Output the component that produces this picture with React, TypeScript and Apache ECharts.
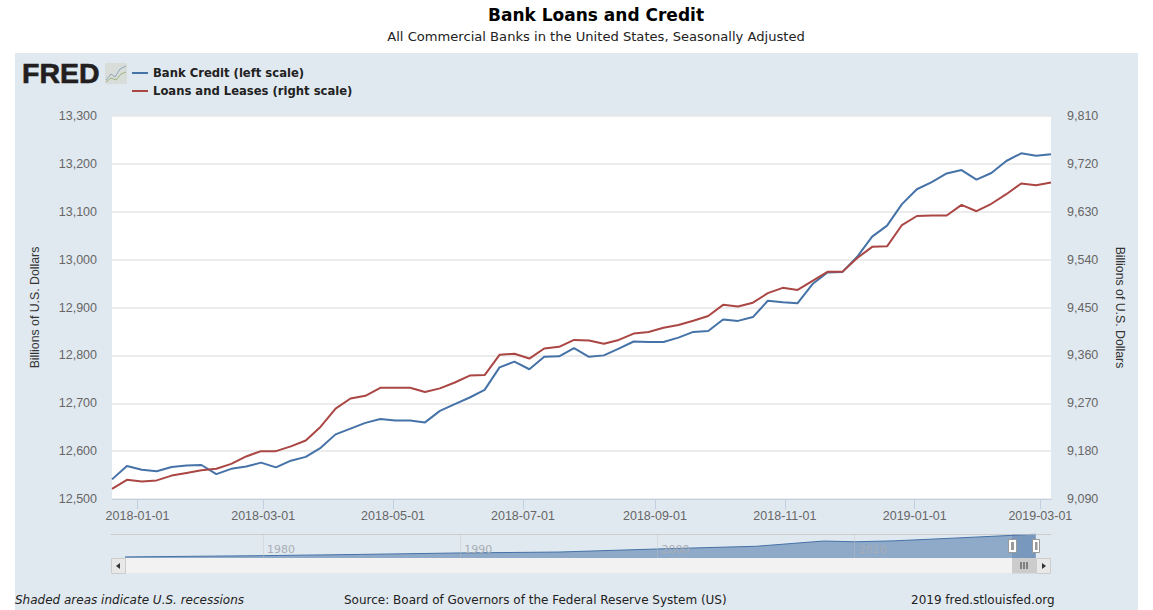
import React, { useEffect, useRef } from "react";
import * as echarts from "echarts";

const bankCredit = [
  12541, 12569, 12561, 12558, 12567, 12570, 12571, 12552, 12563, 12568, 12576, 12566, 12580, 12588, 12607, 12635,
  12647, 12659, 12667, 12664, 12664, 12660, 12684, 12698, 12712, 12728, 12775, 12787, 12771, 12797, 12798, 12815,
  12797, 12800, 12814, 12829, 12828, 12828, 12837, 12849, 12851, 12875, 12872, 12880, 12914, 12911, 12909, 12949,
  12973, 12974, 13006, 13048, 13071, 13116, 13147, 13162, 13180, 13187, 13167, 13181, 13206, 13222, 13217, 13220,
];
const loansAndLeases = [
  9109, 9126, 9123, 9125, 9134, 9139, 9144, 9147, 9156, 9170, 9180, 9180, 9189, 9200, 9226, 9260,
  9279, 9284, 9299, 9299, 9299, 9291, 9298, 9309, 9322, 9323, 9361, 9363, 9354, 9373, 9376, 9389,
  9388, 9382, 9389, 9401, 9404, 9412, 9417, 9425, 9434, 9455, 9452, 9459, 9477, 9487, 9483, 9500,
  9517, 9517, 9543, 9564, 9565, 9605, 9622, 9623, 9623, 9643, 9631, 9645, 9663, 9683, 9680, 9685,
];
const xTickDates = ["2018-01-01", "2018-03-01", "2018-05-01", "2018-07-01", "2018-09-01", "2018-11-01", "2019-01-01", "2019-03-01"];

// Long-run overview strip: bank credit since 1973
const overviewDates = ["1973-01-01", "1980-01-01", "1985-01-01", "1990-01-01", "1995-01-01", "2000-01-01", "2005-01-01", "2008-06-01", "2010-01-01", "2012-01-01", "2015-01-01", "2017-12-20", "2019-03-06"];
const overviewValues = [600, 1300, 2000, 2800, 3300, 5000, 6500, 9400, 9000, 9500, 11000, 12540, 13220];
const overviewYears = ["1980-01-01", "1990-01-01", "2000-01-01", "2010-01-01"];

const WEEK = 7 * 24 * 3600 * 1000;
const START = Date.UTC(2017, 11, 20);
const END = Date.UTC(2019, 2, 6);
const weeks = bankCredit.map((_, i) => START + i * WEEK);
const ts = (d: string) => Date.parse(d + "T00:00:00Z");

const BLUE = "#4572A7";
const RED = "#AA4643";
const PANEL = "#E1E9F0";
const UI = "DejaVu Sans";
const AXIS = "Liberation Sans";

const thousands = (v: number) => v.toLocaleString("en-US");
const grip = (x: number, y: number, h: number, stroke: string) => [0, 3, 6].map((dx) => ({
  type: "line", shape: { x1: x + dx, y1: y, x2: x + dx, y2: y + h }, style: { stroke, lineWidth: 1 }, z: 20,
}));

export default function App() {
  const ref = useRef<HTMLDivElement>(null);
  useEffect(() => {
    const chart = echarts.init(ref.current!, undefined, { renderer: "svg" });
    chart.setOption({
      animation: false,
      backgroundColor: "#fff",
      title: [
        { text: "Bank Loans and Credit", left: 591, top: 1, textAlign: "center", textStyle: { fontFamily: UI, fontWeight: "bold", fontSize: 17, color: "#000" } },
        { text: "All Commercial Banks in the United States, Seasonally Adjusted", left: 591, top: 25, textAlign: "center", textStyle: { fontFamily: UI, fontWeight: "normal", fontSize: 13.1, color: "#222" } },
      ],
      legend: {
        left: 127, top: 62, orient: "vertical", icon: "rect", itemWidth: 16, itemHeight: 2, itemGap: 6,
        data: ["Bank Credit (left scale)", "Loans and Leases (right scale)"],
        textStyle: { fontFamily: UI, fontWeight: "bold", fontSize: 11.6, color: "#222" },
      },
      grid: [
        { left: 112, top: 116, width: 939, height: 383, show: true, backgroundColor: "#fff", borderWidth: 0 },
        { left: 111, top: 534, width: 940, height: 24, show: false },
      ],
      xAxis: [
        {
          type: "value", gridIndex: 0, min: START, max: END,
          axisLine: { show: true, lineStyle: { color: "#C0D0E0", width: 1 } },
          axisTick: { show: true, customValues: xTickDates.map(ts), length: 10, lineStyle: { color: "#C0D0E0" } },
          axisLabel: {
            customValues: xTickDates.map(ts), margin: 10, color: "#666", fontFamily: AXIS, fontSize: 12.5,
            formatter: (v: number) => new Date(v).toISOString().slice(0, 10),
          },
          splitLine: { show: false },
        },
        {
          type: "value", gridIndex: 1, position: "top", z: 5, min: ts("1972-04-15"), max: ts("2019-12-15"),
          axisLine: { show: true, onZero: false, lineStyle: { color: "#CCCCCC", width: 1 } },
          axisTick: { show: true, inside: true, customValues: overviewYears.map(ts), length: 24, lineStyle: { color: "rgba(192,192,192,0.35)" } },
          axisLabel: {
            inside: true, customValues: overviewYears.map(ts), margin: 10, align: "left", padding: [0, 0, 0, 4],
            color: "#A8ADB3", fontFamily: UI, fontSize: 11,
            formatter: (v: number) => String(new Date(v).getUTCFullYear()),
          },
          splitLine: { show: false },
        },
      ],
      yAxis: [
        {
          type: "value", gridIndex: 0, min: 12500, max: 13300, interval: 100,
          name: "Billions of U.S. Dollars", nameLocation: "middle", nameGap: 71, nameRotate: 90,
          nameTextStyle: { fontFamily: AXIS, fontSize: 12.3, color: "#333" },
          axisLine: { show: false }, axisTick: { show: false },
          axisLabel: { margin: 15, padding: [2, 0, 0, 0], color: "#666", fontFamily: AXIS, fontSize: 12.5, formatter: thousands },
          splitLine: { lineStyle: { color: "#E6E6E6", width: 1.5 } },
        },
        {
          type: "value", gridIndex: 0, position: "right", min: 9090, max: 9810, interval: 90,
          name: "Billions of U.S. Dollars", nameLocation: "middle", nameGap: 63, nameRotate: -90,
          nameTextStyle: { fontFamily: AXIS, fontSize: 12.3, color: "#333" },
          axisLine: { show: false }, axisTick: { show: false },
          axisLabel: { margin: 16, padding: [2, 0, 0, 0], color: "#666", fontFamily: AXIS, fontSize: 12.5, formatter: thousands },
          splitLine: { show: false },
        },
        { type: "value", gridIndex: 1, min: 0, max: 13300, show: false, splitLine: { show: false } },
      ],
      series: [
        {
          name: "Bank Credit (left scale)", type: "line", xAxisIndex: 0, yAxisIndex: 0, showSymbol: false,
          itemStyle: { color: BLUE }, lineStyle: { color: BLUE, width: 2 }, z: 3,
          data: weeks.map((t, i) => [t, bankCredit[i]]),
        },
        {
          name: "Loans and Leases (right scale)", type: "line", xAxisIndex: 0, yAxisIndex: 1, showSymbol: false,
          itemStyle: { color: RED }, lineStyle: { color: RED, width: 2 }, z: 4,
          data: weeks.map((t, i) => [t, loansAndLeases[i]]),
        },
        {
          name: "Overview", type: "line", xAxisIndex: 1, yAxisIndex: 2, showSymbol: false,
          lineStyle: { color: BLUE, width: 1 }, areaStyle: { color: "#8FAAC9", opacity: 1 }, z: 1,
          data: overviewDates.map((d, i) => [ts(d), overviewValues[i]]),
        },
      ],
      graphic: [
        { type: "rect", z: -10, shape: { x: 15, y: 53, width: 1123, height: 557 }, style: { fill: PANEL } },
        // FRED wordmark and its small chart badge
        { type: "text", x: 22, y: 58, z: 10, style: { text: "FRED", fontFamily: AXIS, fontWeight: "bold", fontSize: 28.5, fill: "#231F20", stroke: "#231F20", lineWidth: 0.6 } },
        { type: "rect", z: 10, shape: { x: 105, y: 63, width: 22, height: 21, r: 1 }, style: { fill: "#D9DDDA" } },
        { type: "polyline", z: 11, shape: { points: [[106, 80], [111, 74], [115, 77], [120, 69], [126, 66]] }, style: { stroke: "#8FA5BC", lineWidth: 1, fill: "none" } },
        { type: "polyline", z: 11, shape: { points: [[106, 82], [111, 78], [116, 80], [121, 74], [126, 72]] }, style: { stroke: "#9DB37F", lineWidth: 1, fill: "none" } },
        // Range selector over the overview strip
        { type: "rect", z: 15, shape: { x: 1012, y: 534, width: 24, height: 24 }, style: { fill: "rgba(69,114,167,0.3)" } },
        { type: "rect", z: 16, shape: { x: 1008.5, y: 539.5, width: 8, height: 13 }, style: { fill: "#fff", stroke: "#999", lineWidth: 1 } },
        { type: "rect", z: 17, shape: { x: 1011, y: 542, width: 3, height: 8 }, style: { fill: "#999" } },
        { type: "rect", z: 16, shape: { x: 1032.5, y: 539.5, width: 7, height: 13 }, style: { fill: "#fff", stroke: "#999", lineWidth: 1 } },
        { type: "rect", z: 17, shape: { x: 1035, y: 542, width: 2.5, height: 8 }, style: { fill: "#999" } },
        // Scrollbar
        { type: "rect", z: 10, shape: { x: 111, y: 558, width: 940, height: 15 }, style: { fill: "#F2F2F2" } },
        { type: "rect", z: 11, shape: { x: 111.5, y: 558.5, width: 14, height: 15 }, style: { fill: "#E8E8E8", stroke: "#CCCCCC", lineWidth: 1 } },
        { type: "polygon", z: 12, shape: { points: [[116, 566], [120, 563], [120, 569]] }, style: { fill: "#333" } },
        { type: "rect", z: 11, shape: { x: 1012, y: 558, width: 24, height: 15.5 }, style: { fill: "#CCCCCC" } },
        ...grip(1021, 562, 7, "#333"),
        { type: "rect", z: 11, shape: { x: 1036.5, y: 558.5, width: 14, height: 15 }, style: { fill: "#E8E8E8", stroke: "#CCCCCC", lineWidth: 1 } },
        { type: "polygon", z: 12, shape: { points: [[1046, 566], [1042, 563], [1042, 569]] }, style: { fill: "#333" } },
        // Footer
        { type: "text", x: 15, y: 594, z: 10, style: { text: "Shaded areas indicate U.S. recessions", fontFamily: UI, fontStyle: "italic", fontSize: 12, fill: "#222" } },
        { type: "text", x: 344, y: 594, z: 10, style: { text: "Source: Board of Governors of the Federal Reserve System (US)", fontFamily: UI, fontSize: 12, fill: "#222" } },
        { type: "text", x: 911, y: 594, z: 10, style: { text: "2019 fred.stlouisfed.org", fontFamily: UI, fontSize: 12, fill: "#222" } },
      ],
    });
    return () => chart.dispose();
  }, []);
  return <div ref={ref} style={{ position: "absolute", left: 0, top: 0, width: 1153, height: 610 }} />;
}
